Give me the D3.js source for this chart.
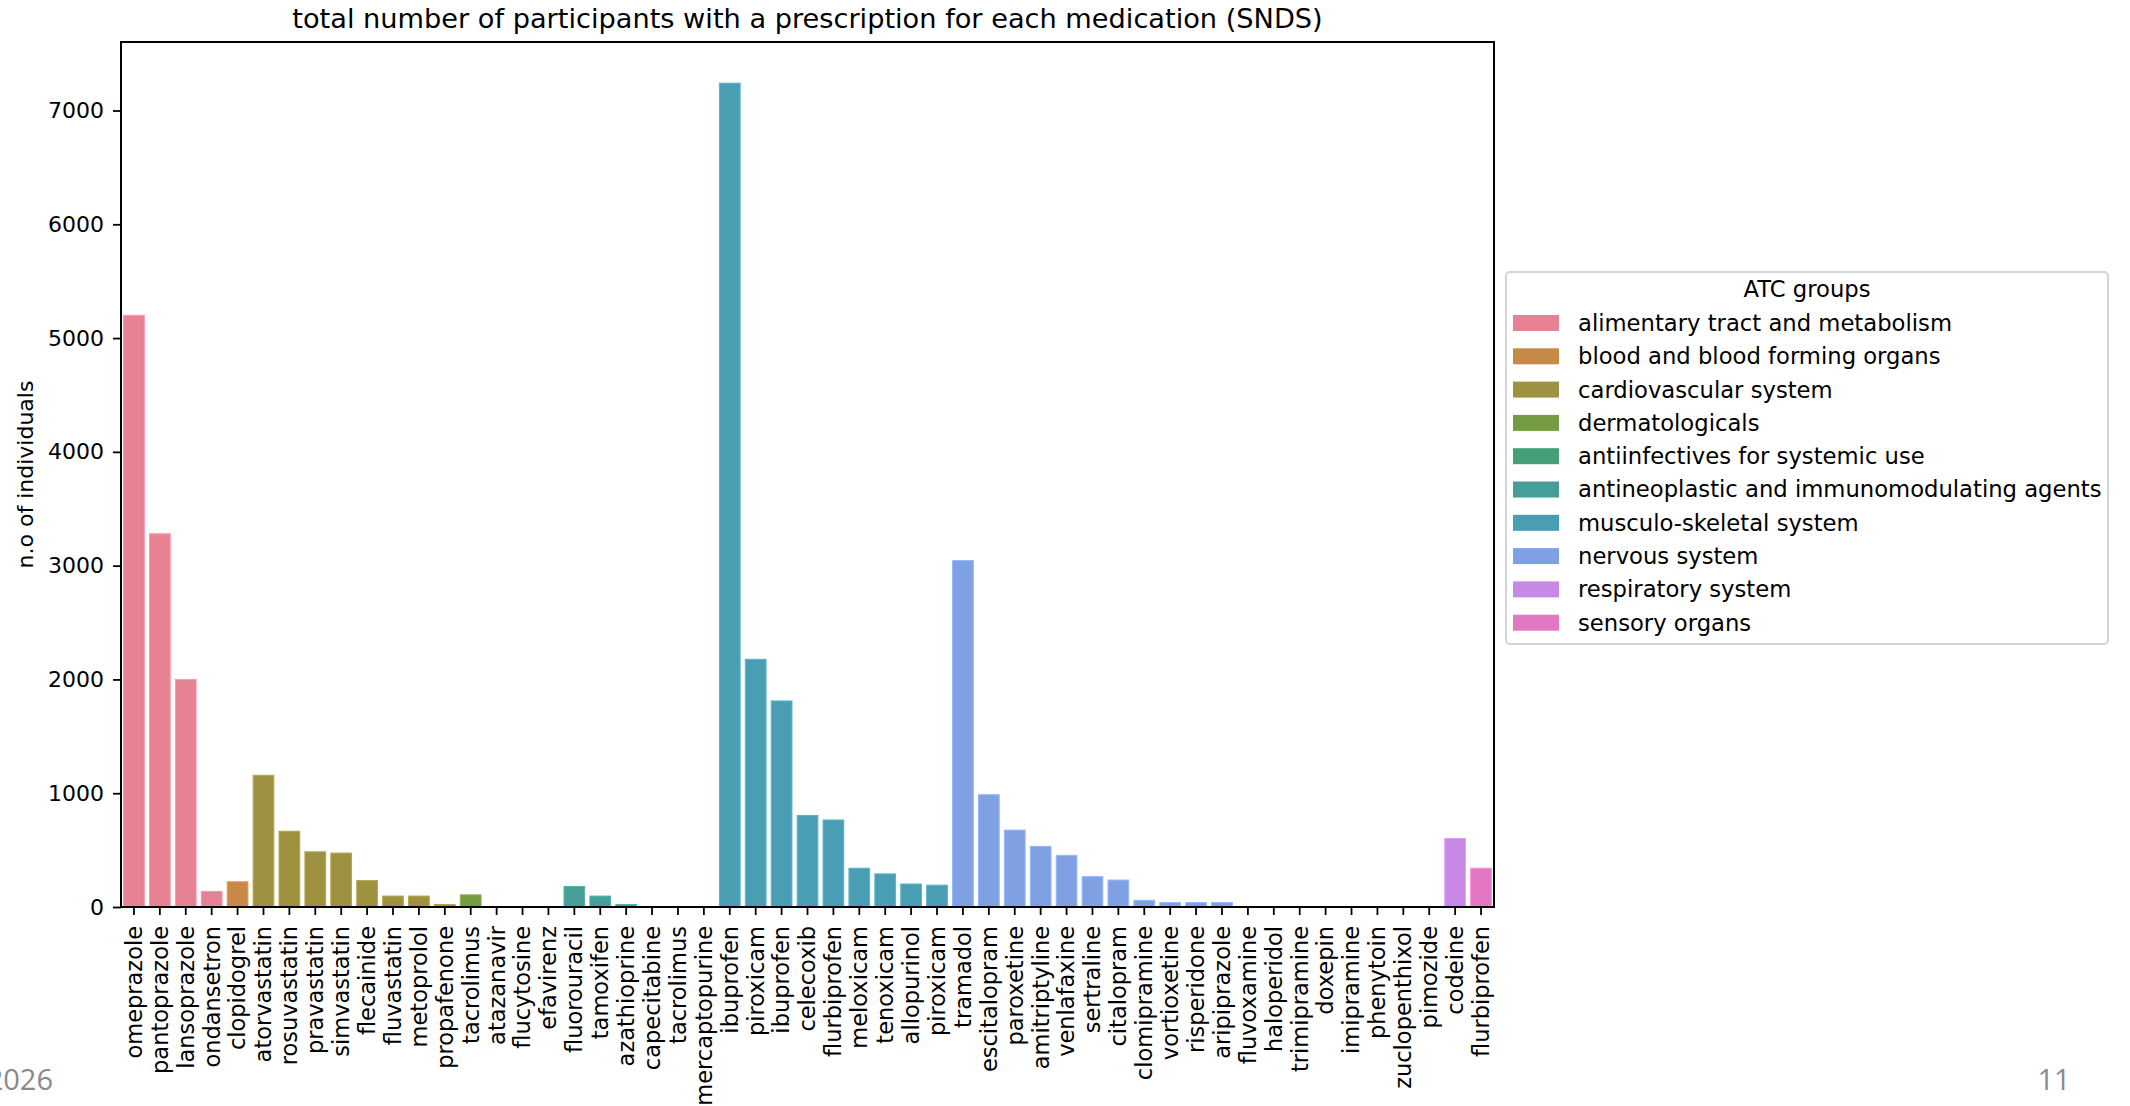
<!DOCTYPE html>
<html>
<head>
<meta charset="utf-8">
<script src="https://cdn.jsdelivr.net/npm/d3@7"></script>
<style>
  body { margin: 0; background: #ffffff; }
  svg { display: block; font-family: "DejaVu Sans", sans-serif; }
</style>
</head>
<body>
<svg id="chart"></svg>
<script>
// medications in plot order (names repeat, so bars are keyed by index)
const medications = [
  'omeprazole', 'pantoprazole', 'lansoprazole', 'ondansetron', 'clopidogrel',
  'atorvastatin', 'rosuvastatin', 'pravastatin', 'simvastatin', 'flecainide',
  'fluvastatin', 'metoprolol', 'propafenone', 'tacrolimus', 'atazanavir',
  'flucytosine', 'efavirenz', 'fluorouracil', 'tamoxifen', 'azathioprine',
  'capecitabine', 'tacrolimus', 'mercaptopurine', 'ibuprofen', 'piroxicam',
  'ibuprofen', 'celecoxib', 'flurbiprofen', 'meloxicam', 'tenoxicam',
  'allopurinol', 'piroxicam', 'tramadol', 'escitalopram', 'paroxetine',
  'amitriptyline', 'venlafaxine', 'sertraline', 'citalopram', 'clomipramine',
  'vortioxetine', 'risperidone', 'aripiprazole', 'fluvoxamine', 'haloperidol',
  'trimipramine', 'doxepin', 'imipramine', 'phenytoin', 'zuclopenthixol',
  'pimozide', 'codeine', 'flurbiprofen'
];

// number of individuals
const counts = [
  5200, 3280, 2000, 137, 222,
  1158, 666, 485, 474, 233,
  96, 96, 22, 107, 0,
  0, 0, 181, 96, 22,
  0, 0, 0, 7240, 2177,
  1811, 805, 765, 341, 291,
  202, 192, 3045, 987, 676,
  533, 454, 267, 237, 59,
  39, 39, 39, 0, 0,
  0, 0, 0, 0, 0,
  0, 602, 341
];

// ATC group code for each medication
const atcCodes = [
  'A', 'A', 'A', 'A', 'B',
  'C', 'C', 'C', 'C', 'C',
  'C', 'C', 'C', 'D', 'J',
  'J', 'J', 'L', 'L', 'L',
  'L', 'L', 'L', 'M', 'M',
  'M', 'M', 'M', 'M', 'M',
  'M', 'M', 'N', 'N', 'N',
  'N', 'N', 'N', 'N', 'N',
  'N', 'N', 'N', 'N', 'N',
  'N', 'N', 'N', 'N', 'N',
  'N', 'R', 'S'
];

const groupCodes = ['A', 'B', 'C', 'D', 'J', 'L', 'M', 'N', 'R', 'S'];
const groupNames = [
  'alimentary tract and metabolism',
  'blood and blood forming organs',
  'cardiovascular system',
  'dermatologicals',
  'antiinfectives for systemic use',
  'antineoplastic and immunomodulating agents',
  'musculo-skeletal system',
  'nervous system',
  'respiratory system',
  'sensory organs'
];
// husl palette, desaturated like seaborn bars
const huslPalette = ['#f77189', '#dc8932', '#ae9d31', '#77ab31', '#33b07a',
                     '#36ada4', '#38a9c5', '#6e9bf4', '#cc7af4', '#f565cc'];

const yTicks = [0, 1000, 2000, 3000, 4000, 5000, 6000, 7000];

const W = 2130, H = 1106;
const margin = { top: 42, right: 636, bottom: 199, left: 121 };
const width = W - margin.left - margin.right;
const height = H - margin.top - margin.bottom;

const desat = c => { const h = d3.hsl(c); h.s *= 0.75; return h.formatHex(); };
const color = d3.scaleOrdinal().domain(groupCodes).range(huslPalette.map(desat));

const svg = d3.select('#chart')
  .attr('width', W)
  .attr('height', H)
  .style('background', '#ffffff');

const g = svg.append('g')
  .attr('transform', `translate(${margin.left},${margin.top})`);

const x = d3.scaleBand()
  .domain(d3.range(medications.length))
  .range([0, width])
  .paddingInner(0.2)
  .paddingOuter(0.1);

const y = d3.scaleLinear()
  .domain([0, d3.max(counts) * 1.05])
  .range([height, 0]);

// bars
g.selectAll('.bar')
  .data(counts)
  .enter()
  .append('rect')
  .attr('class', 'bar')
  .attr('x', (d, i) => x(i))
  .attr('width', x.bandwidth())
  .attr('y', d => y(d))
  .attr('height', d => y(0) - y(d))
  .attr('fill', (d, i) => color(atcCodes[i]))
  .attr('stroke', (d, i) => d3.color(color(atcCodes[i])).brighter(0.4))
  .attr('stroke-width', 1);

// y axis
const yAxis = g.append('g')
  .call(d3.axisLeft(y).tickValues(yTicks).tickFormat(d3.format('d')).tickSize(8).tickPadding(9))
  .attr('font-size', 22)
  .attr('font-family', '"DejaVu Sans", sans-serif');
yAxis.select('.domain').remove();
yAxis.selectAll('line').attr('stroke', '#000').attr('stroke-width', 1.8);
yAxis.selectAll('text').attr('fill', '#000');

// x axis with rotated labels
const xAxis = g.append('g')
  .attr('transform', `translate(0,${height})`)
  .call(d3.axisBottom(x).tickFormat(i => medications[i]).tickSize(8).tickSizeOuter(0))
  .attr('font-size', 22.5)
  .attr('font-family', '"DejaVu Sans", sans-serif');
xAxis.select('.domain').remove();
xAxis.selectAll('line').attr('stroke', '#000').attr('stroke-width', 1.8);
xAxis.selectAll('text')
  .attr('fill', '#000')
  .attr('transform', 'rotate(-90)')
  .attr('x', -19)
  .attr('y', 0)
  .attr('dy', '0.35em')
  .attr('text-anchor', 'end');

// frame
g.append('rect')
  .attr('width', width)
  .attr('height', height)
  .attr('fill', 'none')
  .attr('stroke', '#000')
  .attr('stroke-width', 2);

// title
svg.append('text')
  .attr('x', margin.left + width / 2)
  .attr('y', 28)
  .attr('text-anchor', 'middle')
  .attr('font-size', 27.2)
  .attr('fill', '#000')
  .text('total number of participants with a prescription for each medication (SNDS)');

// y label
svg.append('text')
  .attr('transform', `translate(25,${margin.top + height / 2}) rotate(-90)`)
  .attr('text-anchor', 'middle')
  .attr('dy', '0.35em')
  .attr('font-size', 22)
  .attr('fill', '#000')
  .text('n.o of individuals');

// legend
const legend = svg.append('g')
  .attr('transform', 'translate(1506,272)');

legend.append('rect')
  .attr('width', 602)
  .attr('height', 372)
  .attr('rx', 4)
  .attr('fill', '#ffffff')
  .attr('fill-opacity', 0.8)
  .attr('stroke', '#d4d4d4')
  .attr('stroke-width', 2);

legend.append('text')
  .attr('x', 301)
  .attr('y', 17)
  .attr('dy', '0.35em')
  .attr('text-anchor', 'middle')
  .attr('font-size', 22.7)
  .attr('fill', '#000')
  .text('ATC groups');

const item = legend.selectAll('.item')
  .data(groupCodes)
  .enter().append('g')
  .attr('class', 'item')
  .attr('transform', (d, i) => `translate(7,${51 + i * 33.3})`);

item.append('rect')
  .attr('y', -8)
  .attr('width', 46)
  .attr('height', 16)
  .attr('fill', d => color(d));

item.append('text')
  .attr('x', 65)
  .attr('dy', '0.35em')
  .attr('font-size', 22.7)
  .attr('fill', '#000')
  .text((d, i) => groupNames[i]);

// slide footer
svg.append('text')
  .attr('x', 53)
  .attr('y', 1090)
  .attr('text-anchor', 'end')
  .attr('font-size', 29)
  .attr('font-family', '"Open Sans", sans-serif')
  .attr('fill', '#8a8a8a')
  .text('2026');

svg.append('text')
  .attr('x', 2054)
  .attr('y', 1090)
  .attr('text-anchor', 'middle')
  .attr('font-size', 29)
  .attr('font-family', '"Open Sans", sans-serif')
  .attr('fill', '#8a8a8a')
  .text('11');
</script>
</body>
</html>
